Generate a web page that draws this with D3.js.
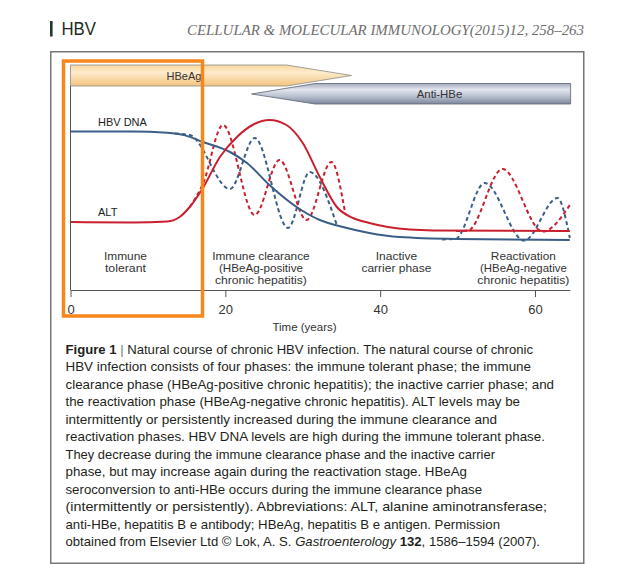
<!DOCTYPE html>
<html><head><meta charset="utf-8">
<script src="https://cdn.jsdelivr.net/npm/d3@7"></script>
<style>html,body{margin:0;padding:0;background:#fff;}svg{display:block;}</style>
</head><body>
<svg id="c" width="635" height="564"></svg>
<script>
// ---- data (years, relative level 0-100) ----
const dnaT   = [0, 8, 12.5, 14.8, 17.1, 20.6, 22.8, 25.7, 29.2, 32.2, 35.2, 38.6, 42.5, 49.9, 64.5];
const dnaV   = [79.2, 79.2, 78.6, 77.3, 74, 69, 63.5, 52.5, 41.5, 35, 31.5, 28.5, 26.5, 25.5, 25];
const altT   = [0, 8, 12.5, 14.1, 15.4, 17.1, 19.3, 21.5, 23.5, 25.7, 27.9, 30, 32.2, 34.4, 36.5, 38.6, 41, 46.8, 64.5];
const altV   = [34, 33.8, 34.3, 36.5, 41.5, 51, 66.5, 76.5, 82.5, 85, 82.5, 73.5, 56.5, 41.5, 36, 33.5, 31.5, 29.8, 29.5];
// fluctuations, immune clearance phase
const dnaFlucT = [13.5, 15.4, 20.6, 23.8, 28.1, 30.9, 34.4];
const dnaFlucV = [78.2, 77.5, 50.5, 76, 31, 59, 32.5];
const altFlucT = [15.4, 17.1, 19.7, 23.8, 27.0, 30.5, 33.7, 35.5];
const altFlucV = [41.5, 53, 82.5, 37.5, 65, 35, 64, 38];
// fluctuations, reactivation phase
const dnaReacT = [48, 49.7, 53.5, 58.6, 62.9, 64.5];
const dnaReacV = [25.3, 25.5, 53.5, 24.7, 46, 26];
const altReacT = [49.8, 51.3, 55.8, 61.0, 64.5];
const altReacV = [29.5, 29.6, 60.5, 29.2, 42.5];
// serology bars (years)
const hbeagSpan = [0, 27.9, 36.3];     // start, body end, tip
const antiSpan  = [23.4, 31.6, 64.6];  // tip, body start, end
const xTicks = [0, 20, 40, 60];
const phaseLabels = [
  {t: 7.1,  lines: ["Immune", "tolerant"]},
  {t: 24.6, lines: ["Immune clearance", "(HBeAg-positive", "chronic hepatitis)"]},
  {t: 42.1, lines: ["Inactive", "carrier phase"]},
  {t: 58.5, lines: ["Reactivation", "(HBeAg-negative", "chronic hepatitis)"]}
];
const captionLines = [
  [["Figure 1","b"],[" | ","g"],["Natural course of chronic HBV infection. The natural course of chronic","n"]],
  [["HBV infection consists of four phases: the immune tolerant phase; the immune","n"]],
  [["clearance phase (HBeAg-positive chronic hepatitis); the inactive carrier phase; and","n"]],
  [["the reactivation phase (HBeAg-negative chronic hepatitis). ALT levels may be","n"]],
  [["intermittently or persistently increased during the immune clearance and","n"]],
  [["reactivation phases. HBV DNA levels are high during the immune tolerant phase.","n"]],
  [["They decrease during the immune clearance phase and the inactive carrier","n"]],
  [["phase, but may increase again during the reactivation stage. HBeAg","n"]],
  [["seroconversion to anti-HBe occurs during the immune clearance phase","n"]],
  [["(intermittently or persistently). Abbreviations: ALT, alanine aminotransferase;","n"]],
  [["anti-HBe, hepatitis B e antibody; HBeAg, hepatitis B e antigen. Permission","n"]],
  [["obtained from Elsevier Ltd © Lok, A. S. ","n"],["Gastroenterology","i"],[" ","n"],["132","b"],[", 1586–1594 (2007).","n"]]
];

const captionEnds = [533, 531, 554, 520, 497, 545, 495, 467, 482, 547, 500, 540];
const labelWidths = {"Immune":43,"tolerant":41,"Immune clearance":97.5,"(HBeAg-positive":84,"chronic hepatitis)":92,
  "Inactive":41.3,"carrier phase":70,"Reactivation":65,"(HBeAg-negative":86.7};

// ---- drawing ----
const svg = d3.select("#c");
svg.append("rect").attr("width",635).attr("height",564).attr("fill","#fff");

// header
svg.append("rect").attr("x",50).attr("y",21).attr("width",2.6).attr("height",15.5).attr("fill","#1d3a2c");
svg.append("text").attr("x",61.5).attr("y",35).attr("font-family","Liberation Sans, Arial, sans-serif")
  .attr("font-size",18.5).attr("fill","#1b2b24").attr("textLength",34.5).attr("lengthAdjust","spacingAndGlyphs").text("HBV");
svg.append("text").attr("x",187).attr("y",35).attr("font-family","Liberation Serif, serif").attr("font-style","italic")
  .attr("font-size",15).attr("fill","#6e6e6e").attr("textLength",397).attr("lengthAdjust","spacingAndGlyphs")
  .text("CELLULAR & MOLECULAR IMMUNOLOGY(2015)12, 258–263");

// frame
svg.append("rect").attr("x",50.75).attr("y",51.75).attr("width",533).attr("height",511.5)
  .attr("fill","none").attr("stroke","#777").attr("stroke-width",1.5);

const x = d3.scaleLinear().domain([0, 60]).range([70.5, 535]);
const y = d3.scaleLinear().domain([0, 100]).range([290, 90]);

// gradients
const defs = svg.append("defs");
const g1 = defs.append("linearGradient").attr("id","gHBeAg").attr("x1",0).attr("y1",0).attr("x2",0).attr("y2",1);
[["0%","#f9d69c"],["35%","#feeccd"],["100%","#f3c47f"]].forEach(s=>g1.append("stop").attr("offset",s[0]).attr("stop-color",s[1]));
const g2 = defs.append("linearGradient").attr("id","gAnti").attr("x1",0).attr("y1",0).attr("x2",0).attr("y2",1);
[["0%","#a3abbf"],["30%","#e3e6ee"],["60%","#bcc3d2"],["100%","#7d879d"]].forEach(s=>g2.append("stop").attr("offset",s[0]).attr("stop-color",s[1]));

// HBeAg arrow
const hTop = 65, hBot = 86, hMid = 75.5;
const p1 = d3.path();
p1.moveTo(x(hbeagSpan[0]), hTop); p1.lineTo(x(hbeagSpan[1]), hTop); p1.lineTo(x(hbeagSpan[2]), hMid);
p1.lineTo(x(hbeagSpan[1]), hBot); p1.lineTo(x(hbeagSpan[0]), hBot); p1.closePath();
svg.append("path").attr("d", p1.toString()).attr("fill","url(#gHBeAg)").attr("stroke","#8a8a8a").attr("stroke-width",0.8);
svg.append("text").attr("x",184).attr("y",80).attr("text-anchor","middle").attr("font-family","Liberation Sans, Arial, sans-serif")
  .attr("font-size",11).attr("fill","#333").text("HBeAg");

// anti-HBe arrow
const aTop = 83.5, aBot = 104, aMid = 94;
const p2 = d3.path();
p2.moveTo(x(antiSpan[0]), aMid); p2.lineTo(x(antiSpan[1]), aTop); p2.lineTo(x(antiSpan[2]), aTop);
p2.lineTo(x(antiSpan[2]), aBot); p2.lineTo(x(antiSpan[1]), aBot); p2.closePath();
svg.append("path").attr("d", p2.toString()).attr("fill","url(#gAnti)").attr("stroke","#5d6270").attr("stroke-width",0.8);
svg.append("text").attr("x",439.5).attr("y",98).attr("text-anchor","middle").attr("font-family","Liberation Sans, Arial, sans-serif")
  .attr("font-size",11.4).attr("fill","#333").text("Anti-HBe");

// axes
svg.append("line").attr("x1",x(0)).attr("x2",x(0)).attr("y1",86).attr("y2",y(0)).attr("stroke","#555").attr("stroke-width",1);
const xAxis = d3.axisBottom(d3.scaleLinear().domain([0,64.5]).range([x(0), x(64.5)]))
  .tickValues(xTicks).tickSize(7).tickSizeOuter(0).tickPadding(8);
const ax = svg.append("g").attr("transform",`translate(0,${y(0)})`).call(xAxis);
ax.select(".domain").attr("stroke","#555");
ax.selectAll(".tick line").attr("stroke","#555");
ax.selectAll("text").attr("font-family","Liberation Sans, Arial, sans-serif").attr("font-size",13).attr("fill","#333");
svg.append("text").attr("x",304.5).attr("y",331).attr("text-anchor","middle").attr("font-family","Liberation Sans, Arial, sans-serif")
  .attr("font-size",11.5).attr("fill","#333").text("Time (years)");

// phase labels
phaseLabels.forEach(p=>{
  p.lines.forEach((l,i)=>{
    const t = svg.append("text").attr("text-anchor","middle").attr("font-family","Liberation Sans, Arial, sans-serif")
      .attr("font-size",10.8).attr("fill","#333").attr("x",x(p.t)).attr("y",260+i*12.2).text(l);
    const w = labelWidths[l] || (l==="chronic hepatitis)" ? 92 : null);
    if (w) t.attr("textLength",w).attr("lengthAdjust","spacingAndGlyphs");
  });
});

// curves
const BLUE = "#3b5e88", RED = "#c8202f";
const line = d3.line().x(d=>x(d[0])).y(d=>y(d[1])).curve(d3.curveMonotoneX);
const zip = (a,b)=>a.map((v,i)=>[v,b[i]]);
const dashed = [[dnaFlucT,dnaFlucV,BLUE],[altFlucT,altFlucV,RED],[dnaReacT,dnaReacV,BLUE],[altReacT,altReacV,RED]];
dashed.forEach(s=>svg.append("path").attr("d",line(zip(s[0],s[1]))).attr("fill","none").attr("stroke",s[2])
  .attr("stroke-width",2).attr("stroke-dasharray","4,3"));
svg.append("path").attr("d",line(zip(dnaT,dnaV))).attr("fill","none").attr("stroke",BLUE).attr("stroke-width",2);
svg.append("path").attr("d",line(zip(altT,altV))).attr("fill","none").attr("stroke",RED).attr("stroke-width",2);

svg.append("text").attr("x",98).attr("y",126).attr("font-family","Liberation Sans, Arial, sans-serif").attr("font-size",11).attr("fill","#222").text("HBV DNA");
svg.append("text").attr("x",98).attr("y",216).attr("font-family","Liberation Sans, Arial, sans-serif").attr("font-size",11).attr("fill","#222").text("ALT");

// orange highlight
svg.append("rect").attr("x",63.5).attr("y",61).attr("width",139).attr("height",255)
  .attr("fill","none").attr("stroke","#f7861b").attr("stroke-width",3.5);

// caption
captionLines.forEach((segs,i)=>{
  const t = svg.append("text").attr("x",65.5).attr("y",354+i*17.45)
    .attr("font-family","Liberation Sans, Arial, sans-serif").attr("font-size",13.5).attr("fill","#231f20")
    .style("white-space","pre").attr("textLength",captionEnds[i]-65.5).attr("lengthAdjust","spacingAndGlyphs");
  segs.forEach(s=>{
    const ts = t.append("tspan").text(s[0]);
    if (s[1]==="b") ts.attr("font-weight","bold");
    if (s[1]==="i") ts.attr("font-style","italic");
    if (s[1]==="g") ts.attr("fill","#777");
  });
});
</script>
</body></html>
